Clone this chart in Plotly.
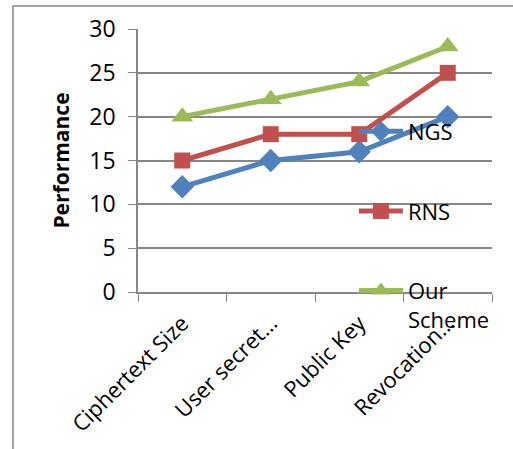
import plotly.graph_objects as go

categories = ["Ciphertext Size", "User secret…", "Public Key", "Revocation…"]
ngs = [12, 15, 16, 20]
rns = [15, 18, 18, 25]
our_scheme = [20, 22, 24, 28]
y_ticks = [0, 5, 10, 15, 20, 25, 30]

FONT = "Open Sans"
GRAY = "#878787"

fig = go.Figure()

series = [
    ("NGS", ngs, "#4F81BD", "diamond", 18),
    ("RNS", rns, "#C0504D", "square", 16),
    ("Our<br>Scheme", our_scheme, "#9BBB59", "triangle-up", 19),
]
for i, (name, vals, color, symbol, size) in enumerate(series):
    fig.add_trace(go.Scatter(
        x=categories, y=vals, name=name, mode="lines+markers",
        legendgroup=f"g{i}",
        line=dict(color=color, width=5),
        marker=dict(symbol=symbol, size=size, color=color),
    ))

fig.update_layout(
    width=513, height=449,
    margin=dict(l=138, r=21, t=29, b=157),
    paper_bgcolor="white", plot_bgcolor="white",
    font=dict(family=FONT, color="#000000"),
    legend=dict(
        x=0.61, y=0.69, xanchor="left", yanchor="top",
        bgcolor="rgba(0,0,0,0)", font=dict(size=22, family=FONT),
        tracegroupgap=48, valign="top", itemwidth=44,
    ),
    xaxis=dict(
        type="category", showgrid=False, showline=True, linecolor=GRAY, linewidth=1.5,
        ticks="outside", tickson="boundaries", ticklen=8, tickcolor=GRAY,
        tickangle=-45, tickfont=dict(size=22, family=FONT), ticklabelstandoff=8,
        range=[-0.5, 3.5],
    ),
    yaxis=dict(
        range=[0, 30], tickvals=y_ticks, showgrid=True, gridcolor=GRAY, gridwidth=1.5,
        showline=True, linecolor=GRAY, linewidth=1.5,
        ticks="outside", ticklen=8, tickcolor=GRAY, ticklabelstandoff=8,
        tickfont=dict(size=23, family=FONT), zeroline=False,
        title=dict(text="<b>Performance</b>", font=dict(size=21, family=FONT), standoff=14),
    ),
)

# chart frame
fig.add_shape(type="rect", xref="paper", yref="paper",
              x0=-125 / 354, x1=1.2, y0=-1, y1=1 + 23 / 263,
              line=dict(color=GRAY, width=1.5), fillcolor="rgba(0,0,0,0)", layer="below")

fig.write_html("out.html")
